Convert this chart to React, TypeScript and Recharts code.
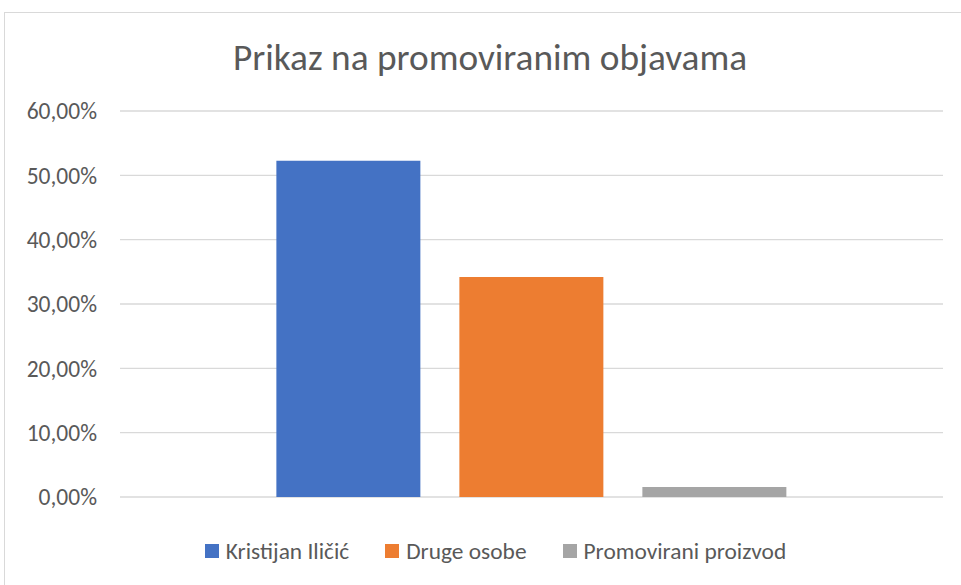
import React from "react";
import { BarChart, Bar, XAxis, YAxis, CartesianGrid, Legend } from "recharts";

const categories = [""];
const seriesNames = ["Kristijan Iličić", "Druge osobe", "Promovirani proizvod"];
const kristijan = [0.5225];
const drugeOsobe = [0.342];
const proizvod = [0.0155];
const yTicks = [0, 0.1, 0.2, 0.3, 0.4, 0.5, 0.6];
const colors = ["#4472C4", "#ED7D31", "#A5A5A5"];

const data = categories.map((c, i) => ({
  name: c,
  s0: kristijan[i],
  s1: drugeOsobe[i],
  s2: proizvod[i],
}));

const font = "Calibri, Carlito, 'Open Sans', 'Liberation Sans', sans-serif";

const fmt = (v: number) => (v * 100).toFixed(2).replace(".", ",") + "%";

function LegendBox() {
  return (
    <div
      style={{
        display: "flex",
        justifyContent: "center",
        alignItems: "center",
        height: 28,
        paddingLeft: 30,
        fontSize: 23.4,
        color: "#595959",
        fontFamily: font,
      }}
    >
      {seriesNames.map((n, i) => (
        <div key={n} style={{ display: "flex", alignItems: "center", marginRight: i < 2 ? 36 : 0 }}>
          <span style={{ width: 14, height: 14, background: colors[i], marginRight: 7, display: "inline-block" }} />
          <span>{n}</span>
        </div>
      ))}
    </div>
  );
}

export default function App() {
  return (
    <div
      style={{
        position: "absolute",
        left: 0,
        top: 0,
        width: 961,
        height: 585,
        overflow: "hidden",
        background: "#fff",
        fontFamily: font,
      }}
    >
      <div
        style={{
          position: "absolute",
          left: 4,
          top: 12,
          width: 1100,
          height: 1100,
          border: "1px solid #d9d9d9",
        }}
      />
      <div
        style={{
          position: "absolute",
          left: 0,
          width: 980,
          top: 34,
          textAlign: "center",
          fontSize: 37.3,
          color: "#595959",
        }}
      >
        Prikaz na promoviranim objavama
      </div>
      <div style={{ position: "absolute", left: 0, top: 0 }}>
        <BarChart
          width={961}
          height={585}
          data={data}
          margin={{ top: 111, right: 18, bottom: 60, left: 0 }}
          barCategoryGap="19%"
          barGap={39}
        >
          <CartesianGrid vertical={false} stroke="#d9d9d9" strokeWidth={1.3} />
          <XAxis dataKey="name" tick={false} tickLine={false} axisLine={{ stroke: "#d9d9d9" }} height={0} />
          <YAxis
            width={120}
            domain={[0, 0.6]}
            ticks={yTicks}
            tickFormatter={fmt}
            axisLine={false}
            tickLine={false}
            tickSize={0}
            tickMargin={23}
            tick={{ fill: "#595959", fontSize: 23.5, fontFamily: font }}
          />
          <Legend
            verticalAlign="bottom"
            content={<LegendBox />}
            wrapperStyle={{ left: 0, width: 961, bottom: 20 }}
          />
          {["s0", "s1", "s2"].map((k, i) => (
            <Bar key={k} dataKey={k} name={seriesNames[i]} fill={colors[i]} isAnimationActive={false} />
          ))}
        </BarChart>
      </div>
    </div>
  );
}
